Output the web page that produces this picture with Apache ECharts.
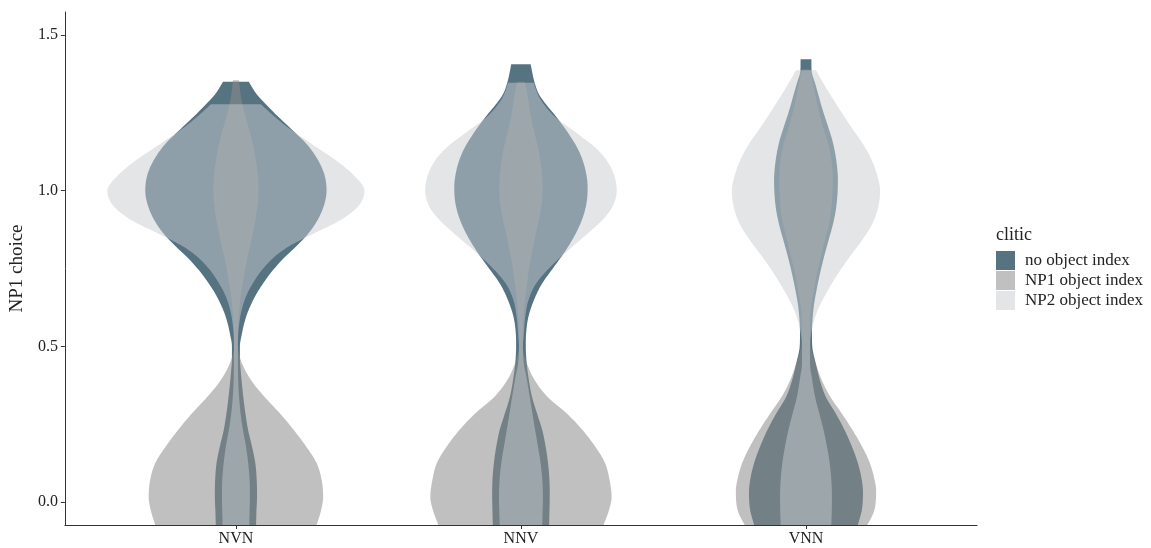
<!DOCTYPE html>
<html>
<head>
<meta charset="utf-8">
<script src="https://cdn.jsdelivr.net/npm/echarts@6/dist/echarts.min.js"></script>
<style>
  html, body { margin: 0; padding: 0; background: #ffffff; }
  #chart { width: 1151px; height: 548px; }
</style>
</head>
<body>
<div id="chart"></div>
<script>
// Word-order conditions on the x axis and clitic groups (fill)
const categories = ['NVN', 'NNV', 'VNN'];
const groups = ['no object index', 'NP1 object index', 'NP2 object index'];
const yTicks = [0, 0.5, 1.0, 1.5];
const yTickLabels = ['0.0', '0.5', '1.0', '1.5'];

// Violin outlines: [NP1 choice, half-width as % of the category spacing], top to bottom
const noIndexNVN = [[1.35,4.5],[1.31,7.3],[1.278,10.5],[1.245,14.0],[1.20,19.2],[1.15,24.8],[1.10,28.7],[1.05,31.1],[1.00,31.8],[0.95,30.8],[0.90,28.3],[0.86,25.2],[0.82,21.0],[0.78,16.4],[0.74,12.6],[0.70,9.4],[0.67,7.3],[0.64,5.6],[0.606,4.0],[0.57,2.8],[0.54,2.1],[0.50,1.4],[0.46,1.4],[0.42,1.7],[0.38,2.1],[0.337,2.6],[0.28,3.4],[0.23,4.3],[0.18,5.6],[0.125,6.8],[0.07,7.3],[0.016,7.4],[-0.03,7.2],[-0.1,7.0]];
const noIndexNNV = [[1.406,3.4],[1.347,4.8],[1.31,6.3],[1.288,7.9],[1.235,12.6],[1.182,16.8],[1.128,20.3],[1.075,22.4],[1.01,23.4],[0.96,23.0],[0.914,21.7],[0.862,19.2],[0.808,15.7],[0.754,11.5],[0.70,7.3],[0.647,4.5],[0.594,2.6],[0.54,1.8],[0.50,1.7],[0.446,2.0],[0.39,2.8],[0.337,3.9],[0.28,5.8],[0.23,7.5],[0.176,8.7],[0.125,9.5],[0.07,10.0],[0.016,10.1],[-0.03,10.0],[-0.1,9.8]];
const noIndexVNN = [[1.422,1.9],[1.387,1.95],[1.342,3.3],[1.30,4.6],[1.267,5.6],[1.21,7.6],[1.16,9.3],[1.10,10.6],[1.032,11.2],[0.946,10.6],[0.89,9.4],[0.84,7.9],[0.786,6.3],[0.733,4.9],[0.68,3.7],[0.626,2.7],[0.54,2.1],[0.50,2.2],[0.446,3.4],[0.39,4.9],[0.337,7.0],[0.285,10.4],[0.23,13.6],[0.176,16.2],[0.125,18.2],[0.07,19.6],[0.03,20.0],[-0.026,19.6],[-0.074,18.2],[-0.1,17.5]];

const np1IndexNVN = [[1.355,1.0],[1.30,1.8],[1.256,2.8],[1.20,4.5],[1.15,5.9],[1.08,7.3],[1.00,7.9],[0.94,7.4],[0.88,6.3],[0.82,4.9],[0.776,3.8],[0.72,2.7],[0.67,1.8],[0.60,1.0],[0.55,0.7],[0.50,0.7],[0.446,2.1],[0.39,5.4],[0.337,10.1],[0.285,15.4],[0.23,20.4],[0.176,24.8],[0.125,28.3],[0.07,30.1],[0.016,30.6],[-0.026,29.9],[-0.074,28.3],[-0.1,27.3]];
const np1IndexNNV = [[1.35,1.4],[1.30,2.4],[1.235,3.5],[1.18,4.9],[1.128,6.2],[1.06,7.3],[1.00,7.6],[0.93,6.8],[0.862,5.2],[0.80,3.8],[0.754,2.9],[0.70,2.1],[0.647,1.4],[0.55,0.7],[0.50,0.7],[0.445,2.1],[0.39,4.9],[0.337,9.4],[0.285,16.0],[0.23,21.7],[0.176,26.2],[0.125,29.5],[0.07,31.1],[0.016,31.8],[-0.026,30.9],[-0.074,29.0],[-0.1,28.0]];
const np1IndexVNN = [[1.39,1.4],[1.342,2.5],[1.267,4.2],[1.20,6.1],[1.16,7.5],[1.10,8.9],[1.032,9.4],[0.946,8.9],[0.89,8.0],[0.84,6.6],[0.786,5.2],[0.733,3.8],[0.68,2.8],[0.626,1.8],[0.56,1.4],[0.50,1.7],[0.446,3.4],[0.39,5.6],[0.337,8.6],[0.285,12.5],[0.23,16.4],[0.176,19.8],[0.125,22.4],[0.07,24.1],[0.038,24.6],[-0.026,24.0],[-0.074,21.5],[-0.1,19.8]];

const np2IndexNVN = [[1.278,8.7],[1.24,13.3],[1.20,18.7],[1.15,26.6],[1.096,35.3],[1.05,41.3],[1.00,45.1],[0.95,42.9],[0.904,36.4],[0.87,29.0],[0.84,22.4],[0.818,18.0],[0.78,12.6],[0.74,8.7],[0.70,5.8],[0.67,4.0],[0.62,2.1],[0.56,1.0],[0.50,0.7],[0.45,0.7],[0.39,0.8],[0.337,1.1],[0.28,1.7],[0.23,2.5],[0.18,3.5],[0.125,4.3],[0.07,4.8],[0.016,4.9],[-0.03,4.8],[-0.1,4.6]];
const np2IndexNNV = [[1.347,4.5],[1.31,5.9],[1.288,7.2],[1.235,12.2],[1.18,20.3],[1.128,27.3],[1.07,31.8],[1.00,33.6],[0.95,32.2],[0.914,29.4],[0.862,23.4],[0.81,16.8],[0.754,10.2],[0.70,5.2],[0.647,2.6],[0.594,1.5],[0.54,1.0],[0.50,0.7],[0.446,1.0],[0.397,2.0],[0.337,3.1],[0.28,4.1],[0.23,5.0],[0.176,6.0],[0.125,6.9],[0.07,7.5],[0.016,7.7],[-0.03,7.6],[-0.1,7.4]];
const np2IndexVNN = [[1.387,3.5],[1.342,6.3],[1.267,11.4],[1.20,16.2],[1.16,19.3],[1.10,23.0],[1.032,25.5],[1.00,26.0],[0.946,25.3],[0.894,23.3],[0.84,19.6],[0.786,15.2],[0.733,11.2],[0.68,7.7],[0.626,4.6],[0.573,2.5],[0.54,1.8],[0.50,1.4],[0.446,1.4],[0.397,2.1],[0.337,3.2],[0.28,4.8],[0.23,6.2],[0.176,7.4],[0.125,8.3],[0.07,8.9],[0.016,9.1],[-0.07,8.9],[-0.1,8.7]];

const outlines = [
  [noIndexNVN, noIndexNNV, noIndexVNN],
  [np1IndexNVN, np1IndexNNV, np1IndexVNN],
  [np2IndexNVN, np2IndexNNV, np2IndexVNN]
];
const fills = ['rgba(30,68,88,0.75)', 'rgba(140,140,140,0.55)', 'rgba(200,204,208,0.5)'];

const serif = 'Liberation Serif';
const ink = '#222222';

// Monotone cubic (Fritsch-Carlson) through the outline, sampled along the value axis
function densifyOutline(pts, steps) {
  const n = pts.length;
  const v = pts.map(p => p[0]), w = pts.map(p => p[1]);
  const d = [];
  for (let k = 0; k < n - 1; k++) d.push((w[k + 1] - w[k]) / (v[k + 1] - v[k]));
  const m = new Array(n);
  m[0] = d[0];
  m[n - 1] = d[n - 2];
  for (let k = 1; k < n - 1; k++) {
    m[k] = (d[k - 1] * d[k] <= 0) ? 0 : (d[k - 1] + d[k]) / 2;
  }
  for (let k = 0; k < n - 1; k++) {
    if (d[k] === 0) { m[k] = 0; m[k + 1] = 0; continue; }
    const a = m[k] / d[k], b = m[k + 1] / d[k];
    const s = a * a + b * b;
    if (s > 9) {
      const t = 3 / Math.sqrt(s);
      m[k] = t * a * d[k];
      m[k + 1] = t * b * d[k];
    }
  }
  const out = [];
  for (let k = 0; k < n - 1; k++) {
    const h = v[k + 1] - v[k];
    for (let s = 0; s < steps; s++) {
      const t = s / steps, t2 = t * t, t3 = t2 * t;
      const h00 = 2 * t3 - 3 * t2 + 1, h10 = t3 - 2 * t2 + t;
      const h01 = -2 * t3 + 3 * t2, h11 = t3 - t2;
      out.push([v[k] + t * h, h00 * w[k] + h10 * h * m[k] + h01 * w[k + 1] + h11 * h * m[k + 1]]);
    }
  }
  out.push([v[n - 1], w[n - 1]]);
  return out;
}

function renderViolin(params, api) {
  const pos = api.value(0);
  const outline = densifyOutline(outlines[params.seriesIndex][params.dataIndex], 10);
  const spacing = api.size([1, 0])[0];
  const cx = api.coord([pos, 0])[0];
  const right = outline.map(([v, w]) => [cx + Math.max(w, 0) / 100 * spacing, api.coord([pos, v])[1]]);
  const left = right.map(p => [2 * cx - p[0], p[1]]).reverse();
  return {
    type: 'polygon',
    shape: { points: right.concat(left) },
    style: { fill: fills[params.seriesIndex], stroke: null }
  };
}

const chart = echarts.init(document.getElementById('chart'), null, { renderer: 'canvas' });

chart.setOption({
  backgroundColor: '#ffffff',
  animation: false,
  grid: { left: 62, right: 174, top: 12, bottom: 23, containLabel: false },
  title: {
    text: 'clitic',
    left: 991, top: 221,
    textStyle: { fontFamily: serif, fontSize: 18, fontWeight: 'normal', color: ink }
  },
  legend: {
    data: groups,
    orient: 'vertical',
    left: 991, top: 246,
    itemWidth: 19, itemHeight: 19, itemGap: 1,
    icon: 'rect',
    selectedMode: false,
    textStyle: { fontFamily: serif, fontSize: 17, color: ink, padding: [0, 0, 0, 5] }
  },
  xAxis: {
    type: 'value',
    min: 0.4, max: 3.6,
    axisLine: { onZero: false, lineStyle: { color: '#333333', width: 1 } },
    axisTick: { customValues: [1, 2, 3], length: 4, lineStyle: { color: '#333333' } },
    axisLabel: {
      customValues: [1, 2, 3],
      formatter: v => categories[Math.round(v) - 1],
      fontFamily: serif, fontSize: 16, color: ink, margin: 6
    },
    splitLine: { show: false }
  },
  yAxis: {
    type: 'value',
    min: -0.074, max: 1.574,
    name: 'NP1 choice',
    nameLocation: 'middle',
    nameGap: 33,
    nameTextStyle: { fontFamily: serif, fontSize: 19, color: ink },
    axisLine: { show: true, onZero: false, lineStyle: { color: '#333333', width: 1 } },
    axisTick: { show: true, customValues: yTicks, length: 4, lineStyle: { color: '#333333' } },
    axisLabel: {
      customValues: yTicks,
      formatter: v => yTickLabels[yTicks.indexOf(Math.round(v * 10) / 10)],
      fontFamily: serif, fontSize: 16, color: ink, margin: 7
    },
    splitLine: { show: false }
  },
  series: groups.map((name, gi) => ({
    name: name,
    type: 'custom',
    clip: true,
    itemStyle: { color: fills[gi] },
    renderItem: renderViolin,
    data: categories.map((c, i) => [i + 1, 0])
  }))
});
</script>
</body>
</html>
